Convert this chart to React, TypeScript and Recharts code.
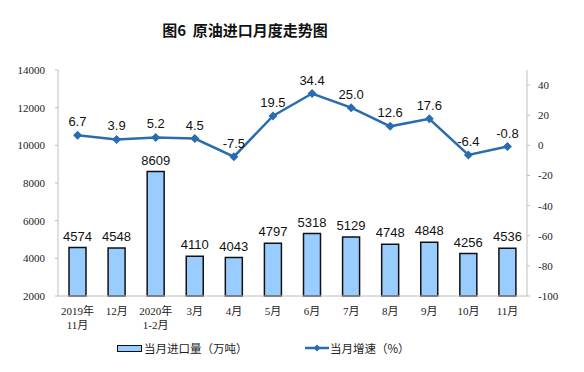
import React from "react";
import {
  ComposedChart,
  Bar,
  Line,
  XAxis,
  YAxis,
  LabelList,
} from "recharts";

// categories (second line after \n)
const months = [
  "2019年\n11月",
  "12月",
  "2020年\n1-2月",
  "3月",
  "4月",
  "5月",
  "6月",
  "7月",
  "8月",
  "9月",
  "10月",
  "11月",
];
const importVolume = [4574, 4548, 8609, 4110, 4043, 4797, 5318, 5129, 4748, 4848, 4256, 4536];
const growthRate = [6.7, 3.9, 5.2, 4.5, -7.5, 19.5, 34.4, 25.0, 12.6, 17.6, -6.4, -0.8];
const leftTicks = [2000, 4000, 6000, 8000, 10000, 12000, 14000];
const rightTicks = [-100, -80, -60, -40, -20, 0, 20, 40];

const data = months.map((m, i) => ({
  month: m,
  volume: importVolume[i],
  rate: growthRate[i],
}));

const barFill = "#99ccff";
const lineColor = "#2a6cb0";
const axisColor = "#bfbfbf";
const serif = "'Liberation Serif', 'Noto Sans CJK SC', serif";
const sans = "'Liberation Sans', Arial, sans-serif";
const cjk = "'Noto Sans CJK SC', sans-serif";

const MonthTick = ({ x, y, payload }: any) => {
  const lines = String(payload.value).split("\n");
  return (
    <text x={x} y={y + 11} textAnchor="middle" fontSize={11} fontFamily={serif} fill="#222">
      {lines.map((l, i) => (
        <tspan key={i} x={x} dy={i === 0 ? 0 : 14}>
          {l}
        </tspan>
      ))}
    </text>
  );
};

const Diamond = ({ cx, cy }: any) => {
  if (cx == null || cy == null) return null;
  const r = 4.5;
  return (
    <path
      d={`M${cx},${cy - r}L${cx + r},${cy}L${cx},${cy + r}L${cx - r},${cy}Z`}
      fill={lineColor}
    />
  );
};

const legendText = {
  position: "absolute" as const,
  top: 340,
  display: "flex",
  alignItems: "center",
  fontFamily: cjk,
  fontSize: 11.5,
  color: "#222",
};

export default function App() {
  return (
    <div style={{ position: "absolute", left: 0, top: 0, width: 584, height: 372, background: "#fff" }}>
      <div
        style={{
          position: "absolute",
          left: 0,
          width: 490,
          top: 19,
          textAlign: "center",
          fontFamily: cjk,
          fontWeight: "bold",
          fontSize: 15,
          color: "#111",
        }}
      >
        图6&nbsp;&nbsp;原油进口月度走势图
      </div>
      <ComposedChart
        width={584}
        height={372}
        data={data}
        margin={{ top: 70, right: 7, left: 8, bottom: 40 }}
      >
        <XAxis
          dataKey="month"
          stroke={axisColor}
          tickLine={false}
          interval={0}
          height={36}
          tick={<MonthTick />}
        />
        <YAxis
          yAxisId="left"
          domain={[2000, 14000]}
          ticks={leftTicks}
          width={50}
          stroke={axisColor}
          tickSize={3}
          tick={{ fontSize: 11, fontFamily: serif, fill: "#222" }}
          tickMargin={10}
        />
        <YAxis
          yAxisId="right"
          orientation="right"
          domain={[-100, 50]}
          ticks={rightTicks}
          width={50}
          stroke={axisColor}
          tickSize={3}
          tick={{ fontSize: 11, fontFamily: serif, fill: "#222", textAnchor: "start" }}
          tickMargin={8}
        />
        <Bar
          yAxisId="left"
          dataKey="volume"
          fill={barFill}
          stroke="#111"
          strokeWidth={1.5}
          barSize={17}
          isAnimationActive={false}
        >
          <LabelList
            dataKey="volume"
            position="top"
            offset={7}
            fontSize={13}
            fontFamily={sans}
            fill="#111"
          />
        </Bar>
        <Line
          yAxisId="right"
          dataKey="rate"
          stroke={lineColor}
          strokeWidth={2.5}
          dot={<Diamond />}
          activeDot={false}
          isAnimationActive={false}
        >
          <LabelList
            dataKey="rate"
            position="top"
            offset={9}
            fontSize={13}
            fontFamily={sans}
            fill="#111"
            formatter={(v: any) => Number(v).toFixed(1)}
          />
        </Line>
      </ComposedChart>
      <div style={{ ...legendText, left: 117 }}>
        <span
          style={{
            display: "inline-block",
            width: 23,
            height: 5,
            background: barFill,
            border: "1.5px solid #111",
            marginRight: 2,
          }}
        />
        <span>当月进口量（万吨）</span>
      </div>
      <div style={{ ...legendText, left: 305 }}>
        <svg width={24} height={10} style={{ marginRight: 1 }}>
          <line x1={0} y1={5} x2={24} y2={5} stroke={lineColor} strokeWidth={2.5} />
          <path d="M12,1.5L15.5,5L12,8.5L8.5,5Z" fill={lineColor} />
        </svg>
        <span>当月增速（%）</span>
      </div>
    </div>
  );
}
